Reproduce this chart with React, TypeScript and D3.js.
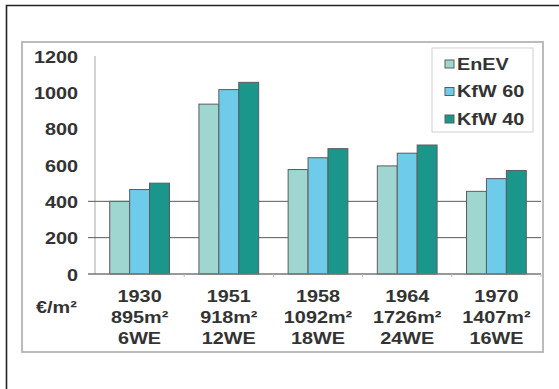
import React from "react";
import * as d3 from "d3";

const categories = ["1930", "1951", "1958", "1964", "1970"];
const areas = ["895m²", "918m²", "1092m²", "1726m²", "1407m²"];
const units = ["6WE", "12WE", "18WE", "24WE", "16WE"];
const seriesNames = ["EnEV", "KfW 60", "KfW 40"];
const enev = [400, 935, 575, 595, 455];
const kfw60 = [465, 1015, 640, 665, 525];
const kfw40 = [500, 1055, 690, 710, 570];
const yTicks = [0, 200, 400, 600, 800, 1000, 1200];
const gridTicks = [200, 400];
const unitLabel = "€/m²";

const colors = ["#9fd6d0", "#6ecbe9", "#1b968a"];
const FONT = "'Liberation Sans', Arial, sans-serif";
const FS = 16;
const SX = 1.24;
const TXT = "#333333";

export default function App() {
  const W = 559, H = 389;
  const plot = { left: 95, right: 541, top: 56, bottom: 274 };
  const x = d3.scaleBand<string>().domain(categories).range([plot.left, plot.right]).paddingInner(0.33).paddingOuter(0.165);
  const xs = d3.scaleBand<string>().domain(seriesNames).range([0, x.bandwidth()]);
  const y = d3.scaleLinear().domain([0, 1200]).range([plot.bottom, plot.top]);
  const series = [enev, kfw60, kfw40];
  const step = x.step();

  const label = (txt: string, tx: number, ty: number, anchor: string, key?: string | number) => (
    <text
      key={key}
      transform={`translate(${tx},${ty}) scale(${SX},1)`}
      textAnchor={anchor}
      dy="0.36em"
      fontFamily={FONT}
      fontWeight="bold"
      fontSize={FS}
      fill={TXT}
    >
      {txt}
    </text>
  );

  return (
    <svg width={W} height={H} style={{ position: "absolute", left: 0, top: 0, background: "#fff" }}>
      <rect x={0} y={0} width={W} height={H} fill="#fff" />
      {/* outer black frame */}
      <path d={`M6.5,${H} V5.5 H${W}`} fill="none" stroke="#222" strokeWidth={1.6} />
      {/* inner panel */}
      <rect x={22} y={42} width={521} height={310} fill="#fff" stroke="#b4b4b4" strokeWidth={1.8} />

      {/* y axis line */}
      <line x1={plot.left} x2={plot.left} y1={plot.top} y2={plot.bottom} stroke="#c8c8c8" strokeWidth={1.6} />
      {/* gridlines */}
      {gridTicks.map((t) => (
        <line key={t} x1={88} x2={plot.right} y1={y(t)} y2={y(t)} stroke="#5a5a5a" strokeWidth={1} />
      ))}
      {/* y tick labels */}
      {yTicks.map((t) => label(String(t), 78, y(t) + 1, "end", t))}

      {/* bars */}
      {categories.map((c, i) => (
        <g key={c} transform={`translate(${x(c)},0)`}>
          {series.map((s, j) => (
            <rect
              key={j}
              x={xs(seriesNames[j])}
              y={y(s[i])}
              width={xs.bandwidth()}
              height={y(0) - y(s[i])}
              fill={colors[j]}
              stroke="#5c5c5c"
              strokeWidth={1}
            />
          ))}
        </g>
      ))}

      {/* baseline */}
      <line x1={88} x2={plot.right} y1={y(0)} y2={y(0)} stroke="#777" strokeWidth={1.4} />
      {categories.map((c, i) => (
        <line key={"t" + c} x1={plot.left + step * (i + 1)} x2={plot.left + step * (i + 1)} y1={y(0)} y2={y(0) + 3} stroke="#bbb" strokeWidth={1} />
      ))}

      {/* category labels */}
      {categories.map((c, i) => {
        const cx = (x(c) as number) + x.bandwidth() / 2;
        return (
          <g key={"l" + c}>
            {label(c, cx, 296, "middle")}
            {label(areas[i], cx, 317, "middle")}
            {label(units[i], cx, 338, "middle")}
          </g>
        );
      })}
      {label(unitLabel, 36, 307, "start")}

      {/* legend */}
      <rect x={432} y={48} width={101} height={84} fill="#fff" stroke="#cfcfcf" strokeWidth={1} />
      {seriesNames.map((n, j) => {
        const cy = 64 + j * 27.5;
        return (
          <g key={n}>
            <rect x={445} y={cy - 4} width={9} height={8} fill={colors[j]} stroke="#5c5c5c" strokeWidth={1} />
            {label(n, 457, cy, "start")}
          </g>
        );
      })}
    </svg>
  );
}
